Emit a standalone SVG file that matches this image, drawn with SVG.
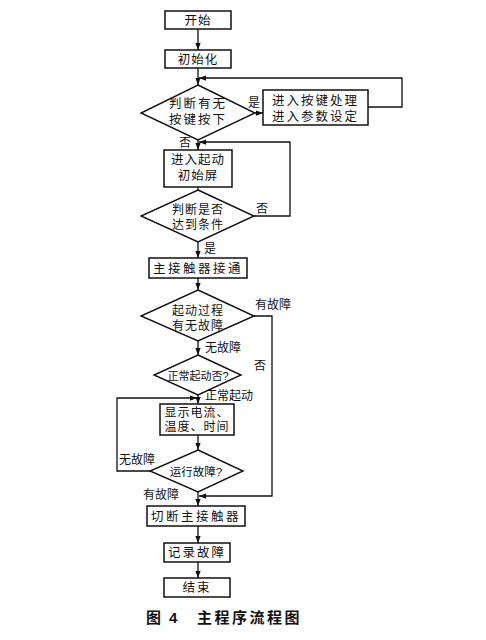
<svg xmlns="http://www.w3.org/2000/svg" width="486" height="640" viewBox="0 0 486 640">
<style>
.box{fill:#fff;stroke:#111;stroke-width:1.5}
.dia{fill:#fff;stroke:#111;stroke-width:1.4}
.ln{fill:none;stroke:#111;stroke-width:1.3}
text{font-family:"Liberation Sans","Noto Sans CJK SC",sans-serif;fill:#111;font-size:12.5px}
.c{text-anchor:middle;letter-spacing:1px}
.lb{font-size:12px}
.cap{font-size:15px;font-weight:bold}
</style>
<defs>
<marker id="ah" viewBox="0 0 8 6" refX="8" refY="3" markerWidth="7" markerHeight="5.5" orient="auto" markerUnits="userSpaceOnUse">
<path d="M0,0 L8,3 L0,6 z" fill="#111"/>
</marker>
</defs>
<rect width="486" height="640" fill="#fff"/>
<g id="connectors">
<line class="ln" x1="198" y1="29" x2="198" y2="50" marker-end="url(#ah)"/>
<line class="ln" x1="198" y1="68" x2="198" y2="85" marker-end="url(#ah)"/>
<line class="ln" x1="255" y1="113" x2="263" y2="113" marker-end="url(#ah)"/>
<polyline class="ln" points="368,107 402,107 402,78 199,78" marker-end="url(#ah)"/>
<line class="ln" x1="198" y1="140" x2="198" y2="150" marker-end="url(#ah)"/>
<polyline class="ln" points="254,216 290,216 290,142 199,142" marker-end="url(#ah)"/>
<line class="ln" x1="198" y1="187" x2="198" y2="190"/>
<line class="ln" x1="198" y1="242" x2="198" y2="258" marker-end="url(#ah)"/>
<line class="ln" x1="198" y1="278" x2="198" y2="290" marker-end="url(#ah)"/>
<polyline class="ln" points="254,316 272,316 272,496 199,496" marker-end="url(#ah)"/>
<line class="ln" x1="198" y1="341" x2="198" y2="355" marker-end="url(#ah)"/>
<line class="ln" x1="198" y1="395" x2="198" y2="404" marker-end="url(#ah)"/>
<polyline class="ln" points="150,471 117,471 117,398 197,398" marker-end="url(#ah)"/>
<line class="ln" x1="198" y1="435" x2="198" y2="450" marker-end="url(#ah)"/>
<line class="ln" x1="198" y1="492" x2="198" y2="506" marker-end="url(#ah)"/>
<line class="ln" x1="198" y1="526" x2="198" y2="543" marker-end="url(#ah)"/>
<line class="ln" x1="198" y1="562" x2="198" y2="578" marker-end="url(#ah)"/>
<text class="lb" x="248" y="107">是</text>
<text class="lb" x="179" y="147">否</text>
<text class="lb" x="256" y="213">否</text>
<text class="lb" x="204" y="253">是</text>
<text class="lb" x="255" y="309">有故障</text>
<text class="lb" x="254" y="370">否</text>
<text class="lb" x="205" y="352">无故障</text>
<text class="lb" x="205" y="400">正常起动</text>
<text class="lb" x="119" y="464">无故障</text>
<text class="lb" x="143" y="499">有故障</text>
</g>
<g id="start"><rect class="box" x="165" y="11" width="66" height="18"/><text class="c" x="198" y="24.5">开始</text></g>
<g id="init"><rect class="box" x="165" y="50" width="66" height="18"/><text class="c" x="198" y="63.5">初始化</text></g>
<g id="d1"><polygon class="dia" points="198,85 255,113 198,140 141,113"/><text class="c" x="198" y="108" style="letter-spacing:2px">判断有无</text><text class="c" x="198" y="124" style="letter-spacing:2px">按键按下</text></g>
<g id="keyproc"><rect class="box" x="263" y="90" width="105" height="35"/><text class="c" x="315.5" y="105" style="letter-spacing:2px">进入按键处理</text><text class="c" x="315.5" y="121" style="letter-spacing:2px">进入参数设定</text></g>
<g id="startscreen"><rect class="box" x="164" y="150" width="68" height="37"/><text class="c" x="198" y="164">进入起动</text><text class="c" x="198" y="180">初始屏</text></g>
<g id="d2"><polygon class="dia" points="198,190 254,216 198,242 141,216"/><text class="c" x="198" y="213.5" style="font-size:12px">判断是否</text><text class="c" x="198" y="228.5" style="font-size:12px">达到条件</text></g>
<g id="contactor"><rect class="box" x="149" y="258" width="98" height="20"/><text class="c" x="198" y="272.5" style="letter-spacing:2.5px">主接触器接通</text></g>
<g id="d3"><polygon class="dia" points="198,290 254,316 198,341 141,316"/><text class="c" x="198" y="314.5" style="font-size:12px">起动过程</text><text class="c" x="198" y="329.5" style="font-size:12px">有无故障</text></g>
<g id="d4"><polygon class="dia" points="198,355 241,375 198,395 154,375"/><text class="c" x="198" y="379.5" style="font-size:11px;letter-spacing:0">正常起动否?</text></g>
<g id="display"><rect class="box" x="160" y="404" width="74" height="31"/><text class="c" x="197" y="416.5" style="font-size:12px;letter-spacing:1px">显示电流、</text><text class="c" x="197" y="431" style="font-size:12px;letter-spacing:1px">温度、时间</text></g>
<g id="d5"><polygon class="dia" points="198,450 243,471 198,492 150,471"/><text class="c" x="196" y="475.5" style="font-size:11.5px;letter-spacing:0">运行故障?</text></g>
<g id="cutoff"><rect class="box" x="147" y="506" width="98" height="20"/><text class="c" x="196" y="520.5" style="letter-spacing:2.5px">切断主接触器</text></g>
<g id="record"><rect class="box" x="164" y="543" width="66" height="19"/><text class="c" x="197" y="557" style="letter-spacing:2px">记录故障</text></g>
<g id="end"><rect class="box" x="164" y="578" width="66" height="19"/><text class="c" x="197" y="592" style="letter-spacing:2px">结束</text></g>
<g id="caption"><text class="cap" x="146" y="623">图</text><text class="cap" x="169" y="623">4</text><text class="cap" x="197" y="623" style="letter-spacing:2.5px">主程序流程图</text></g>
</svg>
